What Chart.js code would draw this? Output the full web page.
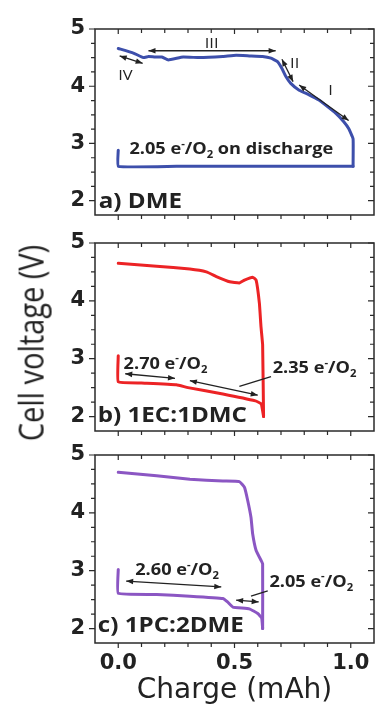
<!DOCTYPE html>
<html>
<head>
<meta charset="utf-8">
<script src="https://cdn.jsdelivr.net/npm/chart.js@4.4.1/dist/chart.umd.min.js"></script>
<style>
  html, body { margin: 0; padding: 0; background: #fff; }
  body { width: 377px; height: 711px; position: relative; overflow: hidden; }
  canvas { position: absolute; left: 0; }
  #panelA { top: 0; }
  #panelB { top: 229px; }
  #panelC { top: 441px; }
  #yTitle {
    position: absolute; left: 30px; top: 343px;
    transform: translate(-50%, -50%) rotate(-90deg) scaleY(1.2);
    font: 29px "Open Sans"; color: #222; white-space: nowrap;
  }
</style>
</head>
<body>
<canvas id="panelA" width="377" height="228"></canvas>
<canvas id="panelB" width="377" height="215"></canvas>
<canvas id="panelC" width="377" height="270"></canvas>
<div id="yTitle">Cell voltage (V)</div>

<script>
// axis ticks
const voltTicks = [2, 3, 4, 5];
const chargeTicks = [0, 0.5, 1.0];

// a) DME
const dmeDischargeQ = [0, 0, 0.25, 0.5, 0.75, 1.01];
const dmeDischargeV = [2.88, 2.60, 2.60, 2.60, 2.60, 2.60];
const dmeChargeQ = [1.01, 1.01, 0.991, 0.970, 0.935, 0.892, 0.863, 0.821, 0.778, 0.742, 0.721, 0.704, 0.685, 0.657, 0.621, 0.564, 0.507, 0.45, 0.35, 0.279, 0.215, 0.187, 0.158, 0.130, 0.108, 0.065, 0];
const dmeChargeV = [2.60, 3.08, 3.26, 3.38, 3.53, 3.67, 3.76, 3.85, 3.93, 4.05, 4.17, 4.31, 4.43, 4.49, 4.52, 4.53, 4.54, 4.52, 4.50, 4.51, 4.46, 4.51, 4.51, 4.52, 4.50, 4.58, 4.66];

// b) 1EC:1DMC
const ecDischargeQ = [0, 0, 0.1, 0.25, 0.30, 0.45, 0.59, 0.615, 0.625];
const ecDischargeV = [3.05, 2.60, 2.58, 2.55, 2.50, 2.39, 2.27, 2.22, 2.00];
const ecChargeQ = [0.625, 0.621, 0.614, 0.607, 0.593, 0.578, 0.543, 0.521, 0.479, 0.422, 0.379, 0.308, 0.165, 0];
const ecChargeV = [2.00, 3.24, 3.55, 3.96, 4.36, 4.41, 4.36, 4.31, 4.33, 4.42, 4.50, 4.55, 4.60, 4.65];

// c) 1PC:2DME
const pcDischargeQ = [0, 0, 0.165, 0.308, 0.45, 0.47, 0.493, 0.564, 0.60, 0.617, 0.621];
const pcDischargeV = [3.02, 2.61, 2.59, 2.56, 2.52, 2.46, 2.37, 2.34, 2.26, 2.18, 2.00];
const pcChargeQ = [0.621, 0.621, 0.614, 0.593, 0.578, 0.571, 0.557, 0.543, 0.521, 0.45, 0.308, 0.165, 0];
const pcChargeV = [2.00, 3.12, 3.18, 3.35, 3.64, 3.92, 4.21, 4.44, 4.54, 4.55, 4.58, 4.64, 4.70];

const ink = '#222';
const tickFont = { family: 'DejaVu Sans', size: 21, weight: 'bold' };
const noteFont = { family: '"Open Sans"', size: 16.5, weight: 'bold' };
const tagFont = { family: '"Open Sans"', size: 21, weight: 'bold' };
const romanFont = { family: '"Open Sans"', size: 15, weight: 'normal' };

function toPoints(xs, ys) {
  return xs.map((x, i) => ({ x: x, y: ys[i] }));
}

// text with ^{sup} and _{sub} pieces, stretched sideways a little
function drawRich(ctx, str, px, py, font, stretch) {
  const parts = str.split(/(\^\{[^}]*\}|_\{[^}]*\})/).filter(Boolean);
  ctx.save();
  ctx.translate(px, py);
  ctx.scale(stretch, 1);
  ctx.fillStyle = ink;
  ctx.textBaseline = 'alphabetic';
  let cx = 0;
  for (const p of parts) {
    let t = p, size = font.size, dy = 0;
    if (p[0] === '^') { t = p.slice(2, -1); size = font.size * 0.62; dy = -font.size * 0.45; }
    else if (p[0] === '_') { t = p.slice(2, -1); size = font.size * 0.62; dy = font.size * 0.25; }
    ctx.font = font.weight + ' ' + size + 'px ' + font.family;
    ctx.fillText(t, cx, dy);
    cx += ctx.measureText(t).width;
  }
  ctx.restore();
}

function arrowHead(ctx, x0, y0, x1, y1) {
  const a = Math.atan2(y1 - y0, x1 - x0);
  const len = 7, half = 2.8;
  ctx.beginPath();
  ctx.moveTo(x1, y1);
  ctx.lineTo(x1 - len * Math.cos(a) + half * Math.sin(a), y1 - len * Math.sin(a) - half * Math.cos(a));
  ctx.lineTo(x1 - len * Math.cos(a) - half * Math.sin(a), y1 - len * Math.sin(a) + half * Math.cos(a));
  ctx.closePath();
  ctx.fill();
}

// labels, double arrows and leader lines, placed in data units
function makeNotes(notes) {
  return {
    id: 'notes',
    afterDatasetsDraw(chart) {
      const { ctx, scales: { x, y } } = chart;
      ctx.save();
      ctx.strokeStyle = ink;
      ctx.fillStyle = ink;
      ctx.lineWidth = 1.3;
      for (const [q0, v0, q1, v1, heads] of notes.arrows) {
        const x0 = x.getPixelForValue(q0), y0 = y.getPixelForValue(v0);
        const x1 = x.getPixelForValue(q1), y1 = y.getPixelForValue(v1);
        ctx.beginPath();
        ctx.moveTo(x0, y0);
        ctx.lineTo(x1, y1);
        ctx.stroke();
        if (heads) {
          arrowHead(ctx, x0, y0, x1, y1);
          arrowHead(ctx, x1, y1, x0, y0);
        }
      }
      for (const [str, q, v, font, stretch] of notes.texts) {
        drawRich(ctx, str, x.getPixelForValue(q), y.getPixelForValue(v), font, stretch);
      }
      ctx.restore();
    }
  };
}

// box around the plot with ticks: out on left/bottom, in on top/right
const framePlugin = {
  id: 'frame',
  afterDatasetsDraw(chart) {
    const { ctx, chartArea: a, scales: { x, y } } = chart;
    ctx.save();
    ctx.strokeStyle = '#2a2a2a';
    ctx.lineWidth = 1.5;
    ctx.strokeRect(a.left, a.top, a.right - a.left, a.bottom - a.top);
    ctx.lineWidth = 1.2;
    ctx.beginPath();
    for (let i = 1; i < 12; i++) {
      const v = -0.1 + i * 0.1;
      const px = x.getPixelForValue(v);
      const len = Math.abs(v * 2 - Math.round(v * 2)) < 1e-6 ? 5 : 4;
      ctx.moveTo(px, a.bottom); ctx.lineTo(px, a.bottom + len);
      ctx.moveTo(px, a.top); ctx.lineTo(px, a.top + len);
    }
    for (let i = 0; i <= 12; i++) {
      const v = 2 + i * 0.25;
      const py = y.getPixelForValue(v);
      const len = i % 4 === 0 ? 6 : 4;
      ctx.moveTo(a.left, py); ctx.lineTo(a.left - len, py);
      ctx.moveTo(a.right, py); ctx.lineTo(a.right - len, py);
    }
    ctx.stroke();
    ctx.restore();
  }
};

function buildPanel(id, p) {
  const line = (data) => ({
    data: data,
    borderColor: p.color,
    borderWidth: 3,
    pointRadius: 0,
    tension: 0.1,
    borderJoinStyle: 'round',
    borderCapStyle: 'round',
    fill: false
  });
  return new Chart(document.getElementById(id), {
    type: 'line',
    data: {
      datasets: [
        line(toPoints(p.dischargeQ, p.dischargeV)),
        line(toPoints(p.chargeQ, p.chargeV))
      ]
    },
    options: {
      responsive: false,
      animation: false,
      layout: { padding: { top: p.padTop, bottom: p.padBottom, left: 0, right: 3 } },
      plugins: { legend: { display: false }, tooltip: { enabled: false } },
      scales: {
        x: {
          type: 'linear', min: -0.1, max: 1.1,
          display: p.showX,
          afterBuildTicks: s => { s.ticks = chargeTicks.map(v => ({ value: v })); },
          afterFit: s => { s.height = p.showX ? 68 : 0; s.paddingLeft = 0; s.paddingRight = 0; },
          grid: { display: false, drawTicks: true, tickLength: 8 },
          border: { display: false },
          ticks: { font: tickFont, color: ink, padding: 0, maxRotation: 0, autoSkip: false, callback: v => v.toFixed(1) },
          title: {
            display: true, text: 'Charge (mAh)', color: ink,
            font: { family: 'DejaVu Sans', size: 28 },
            padding: { top: 0, bottom: 3 }
          }
        },
        y: {
          type: 'linear', min: 1.75, max: 5,
          afterBuildTicks: s => { s.ticks = voltTicks.map(v => ({ value: v })); },
          afterFit: s => { s.width = 95; s.paddingTop = 0; s.paddingBottom = 0; },
          grid: { display: false, drawTicks: true, tickLength: 10 },
          border: { display: false },
          ticks: { font: tickFont, color: ink, padding: 0 }
        }
      }
    },
    plugins: [framePlugin, makeNotes(p.notes)]
  });
}

buildPanel('panelA', {
  color: '#3d4fab', padTop: 29, padBottom: 13, showX: false,
  dischargeQ: dmeDischargeQ, dischargeV: dmeDischargeV,
  chargeQ: dmeChargeQ, chargeV: dmeChargeV,
  notes: {
    arrows: [
      [0.13, 4.62, 0.677, 4.62, true],
      [0.704, 4.47, 0.752, 4.08, true],
      [0.778, 4.02, 0.991, 3.40, true],
      [0.006, 4.53, 0.105, 4.40, true]
    ],
    texts: [
      ['III', 0.372, 4.66, romanFont, 1.1],
      ['II', 0.739, 4.31, romanFont, 1.1],
      ['I', 0.903, 3.85, romanFont, 1.1],
      ['IV', 0.0, 4.11, romanFont, 1.1],
      ['2.05 e^{-}/O_{2} on discharge', 0.048, 2.81, noteFont, 1.1],
      ['a) DME', -0.084, 1.88, tagFont, 1.15]
    ]
  }
});

buildPanel('panelB', {
  color: '#ec2325', padTop: 14, padBottom: 13, showX: false,
  dischargeQ: ecDischargeQ, dischargeV: ecDischargeV,
  chargeQ: ecChargeQ, chargeV: ecChargeV,
  notes: {
    arrows: [
      [0.03, 2.74, 0.244, 2.66, true],
      [0.308, 2.62, 0.60, 2.37, true],
      [0.521, 2.52, 0.657, 2.69, false]
    ],
    texts: [
      ['2.70 e^{-}/O_{2}', 0.023, 2.83, noteFont, 1.1],
      ['2.35 e^{-}/O_{2}', 0.664, 2.75, noteFont, 1.1],
      ['b) 1EC:1DMC', -0.088, 1.91, tagFont, 1.15]
    ]
  }
});

buildPanel('panelC', {
  color: '#8b56c3', padTop: 14, padBottom: 0, showX: true,
  dischargeQ: pcDischargeQ, dischargeV: pcDischargeV,
  chargeQ: pcChargeQ, chargeV: pcChargeV,
  notes: {
    arrows: [
      [0.034, 2.82, 0.443, 2.72, true],
      [0.507, 2.49, 0.604, 2.46, true],
      [0.571, 2.56, 0.643, 2.65, false]
    ],
    texts: [
      ['2.60 e^{-}/O_{2}', 0.073, 2.92, noteFont, 1.1],
      ['2.05 e^{-}/O_{2}', 0.65, 2.72, noteFont, 1.1],
      ['c) 1PC:2DME', -0.088, 1.94, tagFont, 1.15]
    ]
  }
});
</script>
</body>
</html>
